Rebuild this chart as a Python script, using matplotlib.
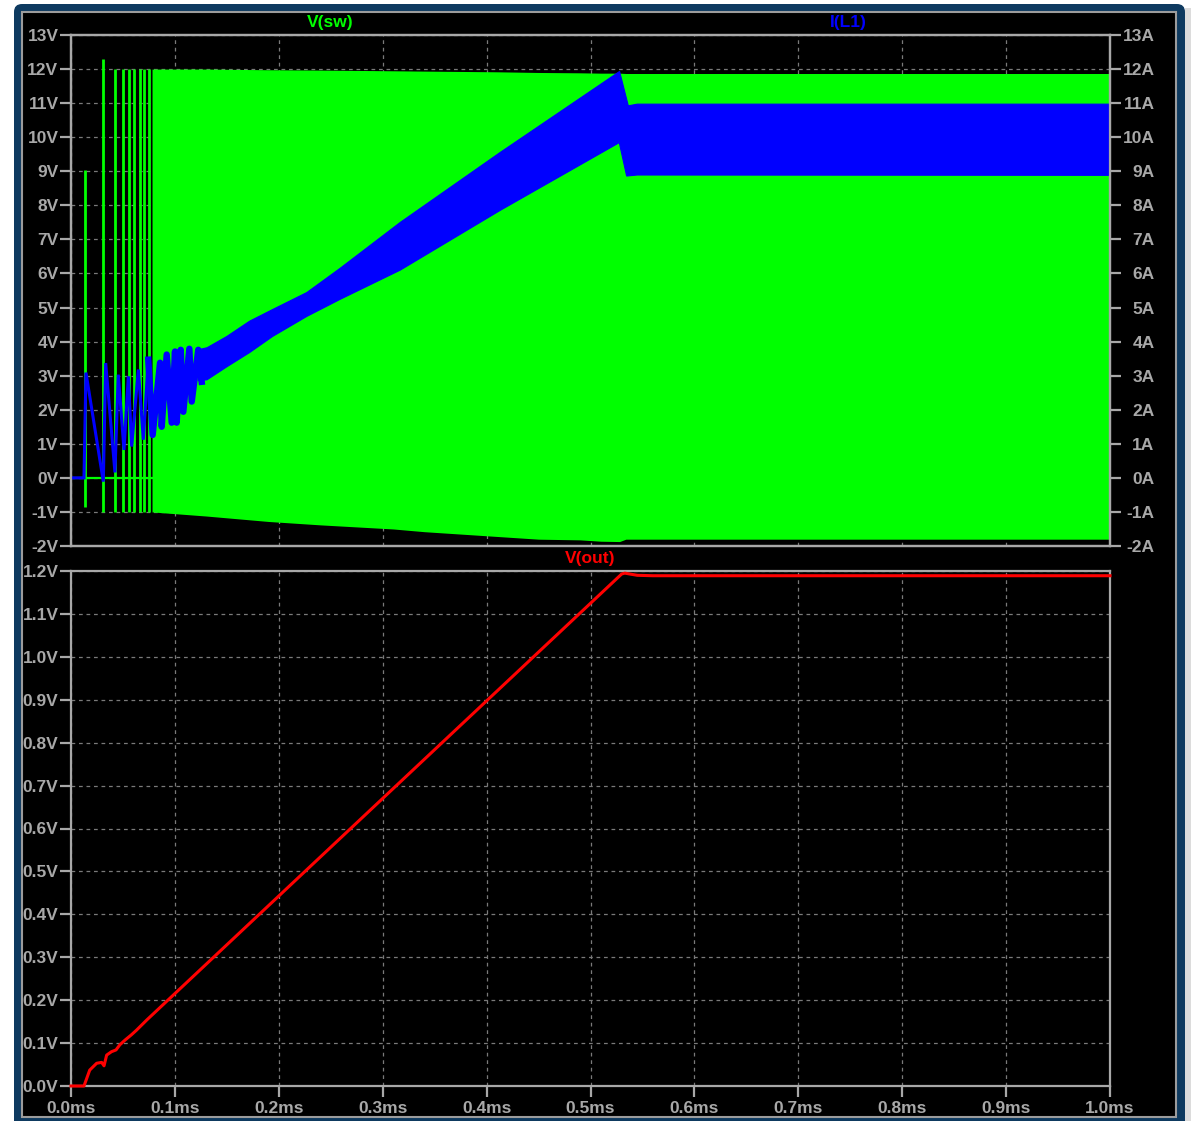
import numpy as np
import matplotlib
matplotlib.use("Agg")
import matplotlib.pyplot as plt
from matplotlib.patches import FancyBboxPatch, Rectangle

W, H = 1194, 1121

# --- time axis (ms) ---
t_ticks = [0.0, 0.1, 0.2, 0.3, 0.4, 0.5, 0.6, 0.7, 0.8, 0.9, 1.0]
t_labels = ["0.0ms", "0.1ms", "0.2ms", "0.3ms", "0.4ms", "0.5ms",
            "0.6ms", "0.7ms", "0.8ms", "0.9ms", "1.0ms"]

# --- V(sw): single pulses during start-up ---
pulse_t = [0.0135, 0.0308, 0.0423, 0.0498, 0.0561, 0.0609, 0.0664, 0.0705, 0.0748]
pulse_hi = [9.05, 12.3, 12.0, 12.0, 12.0, 12.0, 12.0, 12.0, 12.0]
pulse_lo = [-0.85, -1.0, -1.0, -1.0, -1.0, -1.0, -1.0, -1.0, -1.0]
# V(sw): envelope of continuous switching
sw_t = [0.078, 0.13, 0.19, 0.24, 0.31, 0.34, 0.41, 0.45, 0.49, 0.51, 0.528, 0.534, 0.60, 1.0]
sw_hi = [12.0, 12.0, 11.98, 11.97, 11.95, 11.94, 11.92, 11.9, 11.89, 11.88, 11.88, 11.87, 11.87, 11.87]
sw_lo = [-1.0, -1.12, -1.28, -1.38, -1.5, -1.58, -1.72, -1.8, -1.82, -1.86, -1.87, -1.80, -1.80, -1.80]

# --- I(L1): first discontinuous cycles ---
il_t = [0.0, 0.0125, 0.0144, 0.0311, 0.0334, 0.0423, 0.0455, 0.0510, 0.0552, 0.0584,
        0.0648, 0.0696, 0.0744]
il_a = [0.0, 0.0, 3.09, -0.11, 3.37, 0.16, 3.03, 0.82, 2.98, 0.92,
        3.18, 1.12, 3.47]
# I(L1): ringing envelope lobes once switching is continuous
ring_t = [0.0744, 0.0786, 0.0857, 0.0873, 0.0921, 0.0969, 0.1001, 0.1017, 0.1056,
          0.1081, 0.1139, 0.1162, 0.1225, 0.1258]
ring_a = [3.47, 1.26, 3.38, 1.50, 3.62, 1.62, 3.71, 1.62, 3.76,
          1.94, 3.79, 2.24, 3.76, 2.82]
# I(L1): ripple band, upper and lower edge
band_up_t = [0.1225, 0.131, 0.150, 0.172, 0.194, 0.227, 0.259, 0.317, 0.413, 0.528, 0.5364, 0.545, 1.0]
band_up = [3.76, 3.82, 4.15, 4.60, 4.94, 5.44, 6.15, 7.50, 9.55, 11.93, 10.92, 10.97, 10.97]
band_lo_t = [0.1225, 0.131, 0.150, 0.172, 0.194, 0.227, 0.259, 0.317, 0.413, 0.5277, 0.5348, 0.545, 1.0]
band_lo = [2.85, 2.88, 3.26, 3.68, 4.15, 4.74, 5.24, 6.10, 7.85, 9.84, 8.86, 8.89, 8.88]

# --- V(out) ---
vo_t = [0.0, 0.0125, 0.018, 0.0247, 0.0295, 0.0318, 0.0343, 0.039, 0.0433, 0.047,
        0.052, 0.058, 0.063, 0.073, 0.530, 0.533, 0.545, 0.56, 1.0]
vo_v = [0.0, 0.0, 0.037, 0.053, 0.055, 0.047, 0.072, 0.080, 0.084, 0.096,
        0.107, 0.119, 0.130, 0.154, 1.193, 1.195, 1.190, 1.189, 1.189]

top_ticks = list(range(-2, 14))
v_labels = [f"{v}V" for v in top_ticks]
a_labels = [f"{v}A" for v in top_ticks]
out_ticks = [round(0.1 * i, 1) for i in range(13)]
out_labels = [f"{v:.1f}V" for v in out_ticks]

GREEN, BLUE, RED = "#00ff00", "#0000ff", "#ff0000"
GRAY = "#a8a8a8"
GRIDC = "#7a7a7a"
FONT = dict(family="Liberation Sans", weight="bold", size=12.5)

fig = plt.figure(figsize=(W / 100, H / 100), dpi=100, facecolor="white")

# window frame drawn in pixel coordinates
bg = fig.add_axes([0, 0, 1, 1], zorder=-5)
bg.set_xlim(0, W)
bg.set_ylim(H, 0)
bg.axis("off")
bg.add_patch(Rectangle((1185, 8), 6, 1120, fc="#dcdcdc", ec="none"))
bg.add_patch(FancyBboxPatch((14, 4), 1171, 1140, boxstyle="round,pad=0,rounding_size=8",
                            fc="#0e3a60", ec="none"))
bg.add_patch(Rectangle((22, 12), 1154, 1105, fc="black", ec="#9c9c9c", lw=1.5))


def px_axes(left, top, right, bottom):
    return fig.add_axes([left / W, 1 - bottom / H, (right - left) / W, (bottom - top) / H])


def style(ax):
    ax.set_facecolor("black")
    for s in ax.spines.values():
        s.set_color(GRAY)
        s.set_linewidth(1.6)
    ax.tick_params(colors=GRAY, width=1.6, length=8, direction="out", pad=1)
    ax.grid(True, color=GRIDC, linestyle=(0, (3, 3)), linewidth=0.9)
    ax.set_axisbelow(True)


# ---------------- top pane: V(sw) and I(L1) ----------------
ax = px_axes(71, 35, 1110, 546)
style(ax)
ax.set_xlim(0, 1.0)
ax.set_ylim(-2, 13)
ax.set_xticks(t_ticks)
ax.tick_params(axis="x", length=0, labelbottom=False)
ax.set_yticks(top_ticks)
ax.set_yticklabels(v_labels, **FONT)

ax.plot([0.0, 0.078], [0, 0], color=GREEN, lw=1.6, zorder=2)
ax.vlines(pulse_t, pulse_lo, pulse_hi, color=GREEN, lw=2.0, zorder=2)
ax.fill_between(sw_t, sw_lo, sw_hi, color=GREEN, lw=0, zorder=2)

ax2 = ax.twinx()
ax2.set_ylim(-2, 13)
ax2.set_yticks(top_ticks)
ax2.set_yticklabels(a_labels, **FONT)
for s in ax2.spines.values():
    s.set_color(GRAY)
    s.set_linewidth(1.6)
ax2.tick_params(axis="y", colors=GRAY, width=1.6, length=8, pad=24)
for lab in ax2.get_yticklabels():
    lab.set_horizontalalignment("right")

ax2.plot(il_t, il_a, color=BLUE, lw=2.2, solid_joinstyle="miter")
ax2.plot(ring_t, ring_a, color=BLUE, lw=4.6, solid_joinstyle="round")
ax2.fill(np.concatenate([band_up_t, band_lo_t[::-1]]),
         np.concatenate([band_up, band_lo[::-1]]), color=BLUE, lw=0.8, ec=BLUE)

# ---------------- bottom pane: V(out) ----------------
bx = px_axes(71, 571, 1110, 1086)
style(bx)
bx.set_xlim(0, 1.0)
bx.set_ylim(0, 1.2)
bx.set_xticks(t_ticks)
bx.set_xticklabels(t_labels, **FONT)
bx.tick_params(axis="x", pad=3)
bx.set_yticks(out_ticks)
bx.set_yticklabels(out_labels, **FONT)
bx.plot(vo_t, vo_v, color=RED, lw=2.2, zorder=3, clip_on=False)

# trace names
fig.text(330 / W, 1 - 22 / H, "V(sw)", color=GREEN, ha="center", va="center", **FONT)
fig.text(848 / W, 1 - 22 / H, "I(L1)", color=BLUE, ha="center", va="center", **FONT)
fig.text(590 / W, 1 - 559 / H, "V(out)", color=RED, ha="center", va="center", **FONT)

fig.savefig("out.png", dpi=100, facecolor="white")
